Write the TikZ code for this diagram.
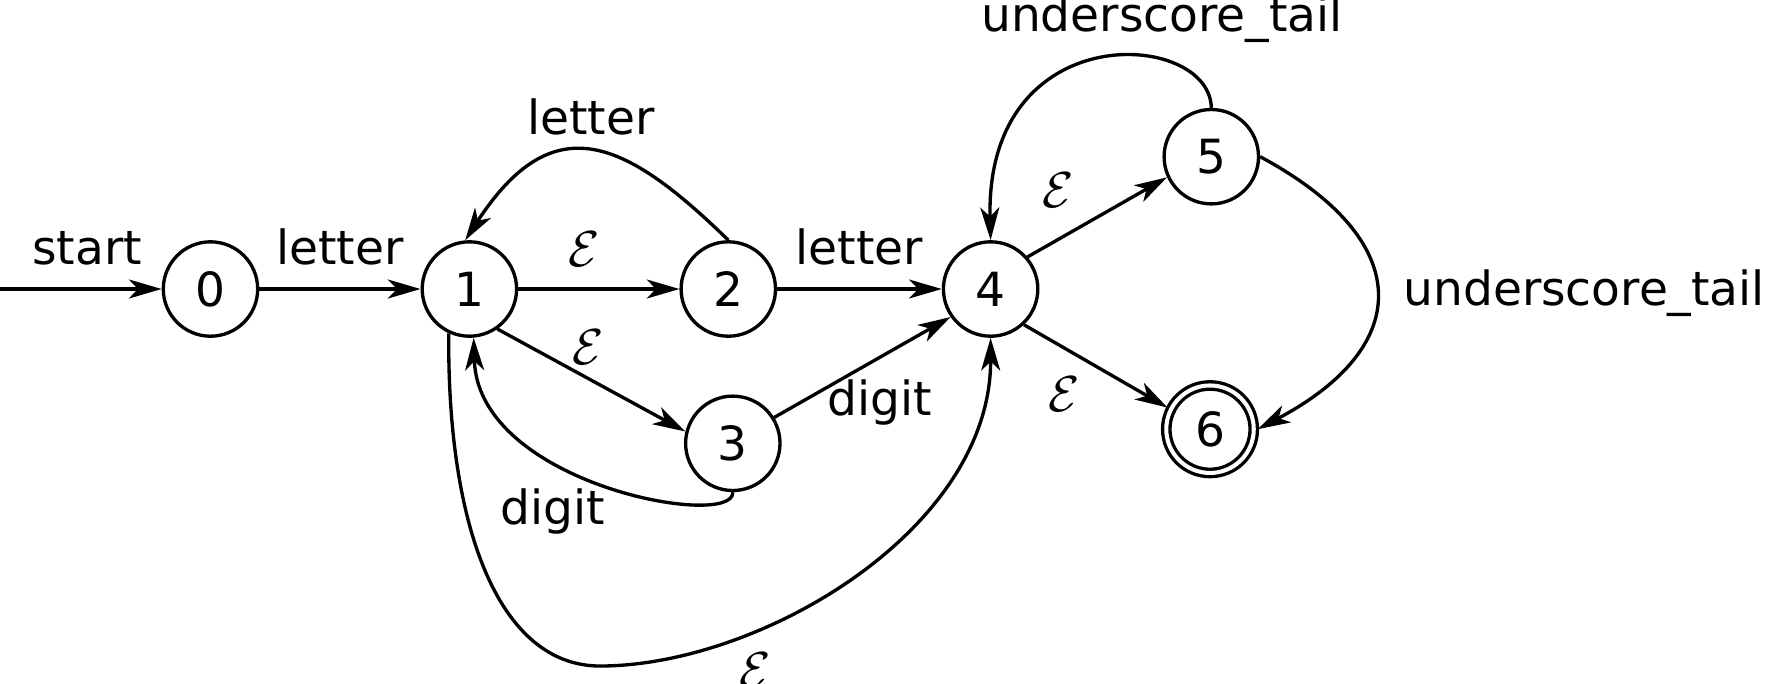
\documentclass[tikz,border=0pt]{standalone}
\usepackage{fontspec}
\setmainfont{DejaVu Sans}
\usetikzlibrary{arrows.meta}
\newcommand{\epsl}{$\mathcal{E}$}

\begin{document}
\begin{tikzpicture}[font=\fontsize{13.4pt}{16pt}\selectfont, line width=0.95pt, line join=round,
		>={Stealth[length=9.3pt,width=5.4pt,inset=2.6pt]},
		state/.style={circle, draw, minimum size=0.944cm, inner sep=0pt},
		final/.style={state, minimum size=0.875cm, double, double distance=1.15pt, outer sep=1.1pt}]
				\useasboundingbox (0,0) rectangle (17.65,6.83);
				\foreach \ten/\x/\y in {0/2.105/3.94, 1/4.694/3.94, 2/7.283/3.94, 3/7.328/2.397, 4/9.906/3.94, 5/12.113/5.263}
					\node[state] (s\ten) at (\x,\y) {\ten};
				\node[final] (s6) at (12.10,2.538) {6};
				\coordinate (in) at (0,3.94);
				\draw[->] (in) -- node[pos=0.54, above=3pt] {start} (s0);
				\draw[->] (s0) -- node[above=3pt] {letter} (s1);
				\draw[->] (s1) -- node[pos=0.41, above=2.5pt] {\epsl} (s2);
				\draw[->] (s2) -- node[above=3pt] {letter} (s4);
				\draw[->] (s2.north) .. controls (6.252,5.433) and (5.533,5.783) .. node[above=1pt] {letter} (s1.95);
				\draw[->] (s1.-55) -- node[pos=0.48, above] {\epsl} (s3.166);
				\draw[->] (s3.32) -- node[pos=0.6, below=2.7pt] {digit} (s4.215);
				\draw[->] (s3.south) .. controls (7.35,1.53) and (4.78,1.98) .. node[pos=0.64, below=4.9pt] {digit} (s1.-85);
				\draw[->] (s1.245) .. controls (4.47,1.53) and (5.00,0.17) .. (6.00,0.17)
					.. controls (7.60,0.17) and (9.91,1.53) .. node[pos=0.3, below=2.3pt] {\epsl} (s4.south);
				\draw[->] (s4.41) -- node[pos=0.22, above=5.4pt] {\epsl} (s5.205);
				\draw[->] (s4.-47) -- node[pos=0.28, below=4.3pt] {\epsl} (s6.153);
				\draw[->] (s5.north) .. controls (12.10,6.53) and (9.85,6.68) .. node[pos=0.3, above=1pt] {underscore\_tail} (s4.north);
				\draw[->] (s5.east) .. controls (14.15,4.43) and (14.15,3.37) .. node[right=4pt] {underscore\_tail} (s6.east);
			\end{tikzpicture}
\end{document}
